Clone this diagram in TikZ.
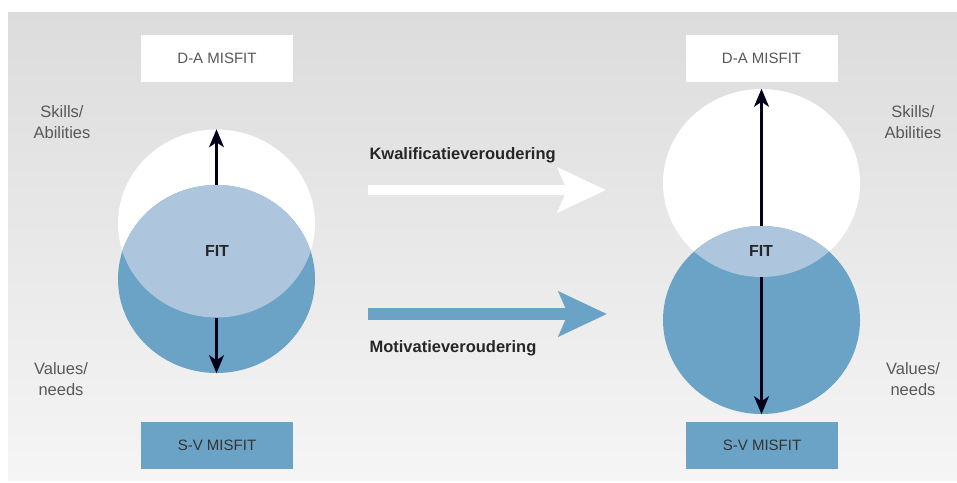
\documentclass[tikz,border=0pt]{standalone}
\usepackage{fontspec}
\setmainfont{Liberation Sans}
\usetikzlibrary{arrows.meta,positioning,shapes.geometric}

\definecolor{bgtop}{HTML}{DCDCDC}
\definecolor{bgbot}{HTML}{F5F5F5}
\definecolor{fitblue}{HTML}{ADC6DD}
\definecolor{svblue}{HTML}{6BA3C6}
\definecolor{labelgray}{HTML}{585858}

\tikzset{
  >={Stealth[length=18pt,width=15pt,inset=5pt]},
  misfit/.style={minimum width=152pt, minimum height=47pt, inner sep=0pt,
    font=\fontsize{15}{18}\selectfont},
  dabox/.style={misfit, fill=white, text=labelgray},
  svbox/.style={misfit, fill=svblue, text=black!80},
  bubble/.style={ellipse, inner sep=0pt, minimum width=197pt, minimum height=188pt},
  side/.style={align=center, text=labelgray, font=\fontsize{16.5}{21}\selectfont},
  fitlabel/.style={text=black!85, font=\bfseries\fontsize{16}{18}\selectfont},
  shiftlabel/.style={anchor=west, text=black!85, font=\bfseries\fontsize{16.5}{20}\selectfont},
  vec/.style={->, line width=2.2pt, draw=black!90!blue},
  move/.style={line width=#1, -{Stealth[length=48pt,width=44pt,inset=9pt]}},
}

\begin{document}
\begin{tikzpicture}[x=1pt, y=-1pt]
  \useasboundingbox (0,0) rectangle (957,482);
  \shade [top color=bgtop, bottom color=bgbot] (8,12) rectangle (957,480);

  % left: before
  \node [dabox] (daL) at (217,58.5) {D-A MISFIT};
  \node [svbox] (svL) at (217,445) {S-V MISFIT};
  \node [bubble, fill=white] (skillL) at (216.5,223.5) {};
  \node [bubble, fill=svblue] (valueL) at (216.5,279) {};
  \begin{scope}
    \clip (216.5,223.5) ellipse [x radius=98.5pt, y radius=94pt];
    \fill [fitblue] (216.5,279) ellipse [x radius=98.5pt, y radius=94pt];
  \end{scope}
  \node [fitlabel] (fitL) at (217,251) {FIT};
  \draw [vec] (valueL.north) -- (skillL.north);
  \draw [vec] (skillL.south) -- (valueL.south);
  \node [side] (skillsL) at (62,122) {Skills/\\Abilities};
  \node [side] (valuesL) at (61,379) {Values/\\needs};

  % right: after
  \node [dabox] (daR) at (761.5,58.5) {D-A MISFIT};
  \node [svbox] (svR) at (762,445) {S-V MISFIT};
  \node [bubble, fill=white] (skillR) at (761.5,183) {};
  \node [bubble, fill=svblue] (valueR) at (761.5,320) {};
  \begin{scope}
    \clip (761.5,183) ellipse [x radius=98.5pt, y radius=94pt];
    \fill [fitblue] (761.5,320) ellipse [x radius=98.5pt, y radius=94pt];
  \end{scope}
  \node [fitlabel] (fitR) at (761,251) {FIT};
  \draw [vec] (valueR.north) -- (skillR.north);
  \draw [vec] (skillR.south) -- (valueR.south);
  \node [side] (skillsR) at (913,122) {Skills/\\Abilities};
  \node [side] (valuesR) at (913,379) {Values/\\needs};

  % the two shifts
  \coordinate (kwFrom) at (368,190);
  \coordinate (kwTo) at (606,190);
  \coordinate (moFrom) at (368,314);
  \coordinate (moTo) at (607,314);
  \draw [move=10pt, white] (kwFrom) -- (kwTo);
  \draw [move=12pt, svblue] (moFrom) -- (moTo);
  \node [shiftlabel] (kwal) at (366,155) {Kwalificatieveroudering};
  \node [shiftlabel] (moti) at (366,348) {Motivatieveroudering};
\end{tikzpicture}
\end{document}
